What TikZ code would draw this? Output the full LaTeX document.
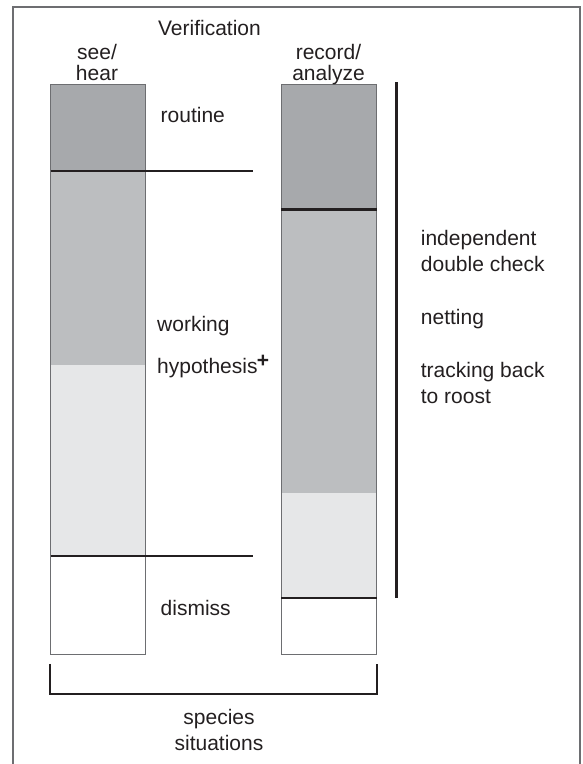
\documentclass[tikz,border=0pt]{standalone}
\usepackage{fontspec}
\setmainfont{Liberation Sans}
\definecolor{gdark}{HTML}{A7A9AC}
\definecolor{gmid}{HTML}{BCBEC0}
\definecolor{glight}{HTML}{E6E7E8}
\definecolor{ink}{HTML}{231F20}
\definecolor{edge}{HTML}{6D6E71}
\begin{document}
\begin{tikzpicture}[x=1pt,y=-1pt,
  lbl/.style={inner sep=0pt,text=ink,font=\fontsize{21}{26}\selectfont},
  boxedge/.style={draw=edge,line width=1.3pt},
  divider/.style={draw=ink,line width=2.4pt},
  frameline/.style={draw=edge,line width=2pt}]
\useasboundingbox (0,0) rectangle (582,764);
% frame
\draw[frameline] (13,764) -- (13,7) -- (580,7) -- (580,764);
% left column fills
\fill[gdark] (50.5,84.6) rectangle (145.5,170.7);
\fill[gmid] (50.5,170.7) rectangle (145.5,365);
\fill[glight] (50.5,365) rectangle (145.5,556);
\draw[boxedge] (50.5,84.6) rectangle (145.5,654.5);
% right column fills
\fill[gdark] (281.4,84.6) rectangle (376.8,209.3);
\fill[gmid] (281.4,209.3) rectangle (376.8,492.7);
\fill[glight] (281.4,492.7) rectangle (376.8,597.7);
\draw[boxedge] (281.4,84.6) rectangle (376.8,654.5);
% dividers
\coordinate (l1a) at (50.5,170.7); \coordinate (l1b) at (253,170.7);
\coordinate (l2a) at (50.5,556); \coordinate (l2b) at (253,556);
\coordinate (r1a) at (281.4,209.3); \coordinate (r1b) at (376.8,209.3);
\coordinate (r2a) at (281.4,597.7); \coordinate (r2b) at (376.8,597.7);
\draw[divider] (l1a) -- (l1b);
\draw[divider] (l2a) -- (l2b);
\draw[divider] (r1a) -- (r1b);
\draw[divider] (r2a) -- (r2b);
% vertical bar
\coordinate (vt) at (396.5,82.4); \coordinate (vb) at (396.5,597.5);
\draw[divider] (vt) -- (vb);
% bracket
\coordinate (b1) at (50.3,663.8); \coordinate (b2) at (50.3,694.2);
\coordinate (b3) at (376.8,694.2); \coordinate (b4) at (376.8,663.8);
\draw[divider,line width=2.2pt] (b1) -- (b2) -- (b3) -- (b4);
% labels
\node[lbl,anchor=base] (ver) at (209.5,35) {Verification};
\node[lbl,anchor=base] (see) at (97,59.5) {see/};
\node[lbl,anchor=base] (hear) at (97,80) {hear};
\node[lbl,anchor=base] (rec) at (328.5,59.5) {record/};
\node[lbl,anchor=base] (ana) at (328.5,80) {analyze};
\node[lbl,anchor=base west] (rout) at (160.5,122.3) {routine};
\node[lbl,anchor=base west] (work) at (157,331.7) {working};
\node[lbl,anchor=base west] (hyp) at (157,373.5) {hypothesis};
\node[lbl,anchor=base west] (dis) at (160.5,615.7) {dismiss};
\node[lbl] (plus) at (263,361.7) {\textbf{+}};
\node[lbl,anchor=base west] (ind) at (420.7,245) {independent};
\node[lbl,anchor=base west] (dbl) at (420.7,271.7) {double check};
\node[lbl,anchor=base west] (net) at (420.7,324) {netting};
\node[lbl,anchor=base west] (trk) at (420.7,377.3) {tracking back};
\node[lbl,anchor=base west] (roo) at (420.7,403.3) {to roost};
\node[lbl,anchor=base] (spe) at (219,724.7) {species};
\node[lbl,anchor=base] (sit) at (219,750.7) {situations};
\end{tikzpicture}
\end{document}
